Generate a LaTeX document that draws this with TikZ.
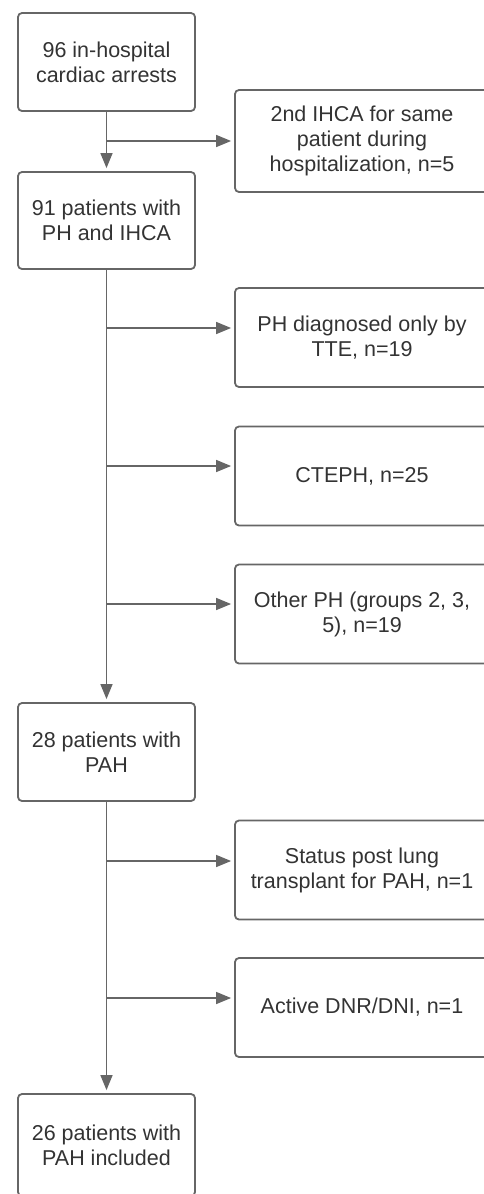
\documentclass[tikz,border=0pt]{standalone}
\usepackage{fontspec}
\setmainfont{Liberation Sans}
\usetikzlibrary{arrows.meta}
\definecolor{edge}{HTML}{666666}
\definecolor{ink}{HTML}{333333}
\begin{document}
\begin{tikzpicture}[x=1pt,y=1pt,
  box/.style={draw=edge, line width=1.8pt, rounded corners=4pt, align=center,
    text=ink, font=\fontsize{21.5}{25}\selectfont, inner sep=0pt},
  lbox/.style={box, minimum width=177pt, minimum height=98pt},
  rbox/.style={box, minimum width=254pt, minimum height=99pt},
  conn/.style={draw=edge, line width=1.4pt, -{Triangle[length=15pt,width=12pt]}, shorten >=3pt}
]
\useasboundingbox (0,0) rectangle (484,-1194);
\clip (0,0) rectangle (484,-1194);
% main column
\node[lbox] (b1) at (106.5,-62) {96 in-hospital\\cardiac arrests};
\node[lbox, minimum height=97pt] (b2) at (106.5,-220.5) {91 patients with\\PH and IHCA};
\node[lbox] (b3) at (106.5,-752) {28 patients with\\PAH};
\node[lbox, minimum height=102pt] (b4) at (106.5,-1145) {26 patients with\\PAH included};
% exclusions
\node[rbox, minimum height=102pt] (r1) at (362,-141) {2nd IHCA for same\\patient during\\hospitalization, n=5};
\node[rbox] (r2) at (362,-337.5) {PH diagnosed only by\\TTE, n=19};
\node[rbox] (r3) at (362,-476) {CTEPH, n=25};
\node[rbox] (r4) at (362,-614) {Other PH (groups 2, 3,\\5), n=19};
\node[rbox] (r5) at (362,-870) {Status post lung\\transplant for PAH, n=1};
\node[rbox] (r6) at (362,-1007.5) {Active DNR/DNI, n=1};
% branch points
\coordinate (c1) at (106.5,-141);
\coordinate (c2) at (106.5,-328);
\coordinate (c3) at (106.5,-466);
\coordinate (c4) at (106.5,-604);
\coordinate (c5) at (106.5,-861);
\coordinate (c6) at (106.5,-998);
% vertical connectors
\draw[conn] (b1.south) -- (b2.north);
\draw[conn] (b2.south) -- (b3.north);
\draw[conn] (b3.south) -- (b4.north);
% horizontal connectors
\draw[conn] (c1) -- (c1 -| r1.west);
\draw[conn] (c2) -- (c2 -| r2.west);
\draw[conn] (c3) -- (c3 -| r3.west);
\draw[conn] (c4) -- (c4 -| r4.west);
\draw[conn] (c5) -- (c5 -| r5.west);
\draw[conn] (c6) -- (c6 -| r6.west);
\end{tikzpicture}
\end{document}
